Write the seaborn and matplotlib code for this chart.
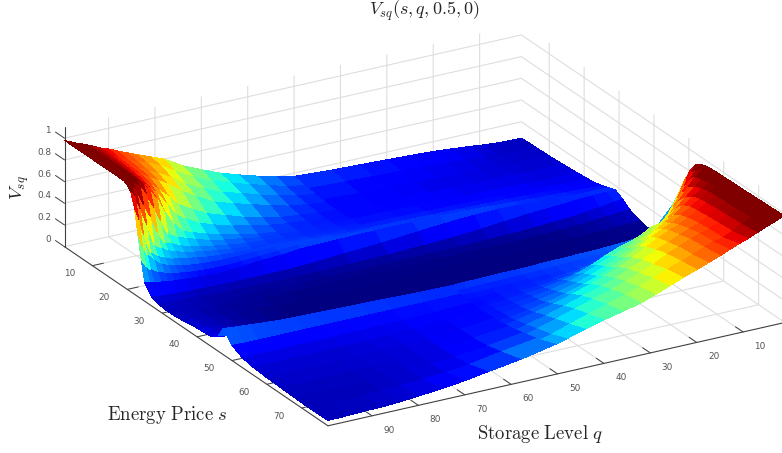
import numpy as np
import matplotlib
matplotlib.use("Agg")
import matplotlib.pyplot as plt
import seaborn as sns
from mpl_toolkits.mplot3d import proj3d

# ---- values ----
# coarse table: gentle parts of the surface and the middle valley
q_levels = [1, 3, 6, 9, 12, 16, 20, 25, 30, 36, 42, 50, 58, 65, 70, 75, 80, 84, 88, 91, 94, 97, 99.5]
s_back = [2, 6, 10, 14, 18, 21, 23, 25]
v_back = [
    [.05,.05,.055,.065,.08,.095,.11,.12,.13,.14,.15,.17],
    [.055,.055,.055,.06,.07,.08,.09,.10,.11,.12,.13,.145],
    [.06,.06,.06,.065,.07,.075,.08,.085,.09,.10,.11,.13],
    [.07,.07,.07,.07,.075,.075,.08,.085,.09,.10,.105,.12],
    [.08,.08,.08,.08,.085,.09,.095,.10,.105,.11,.115,.125],
    [.09,.09,.09,.095,.10,.105,.11,.115,.12,.125,.13,.135],
    [.10,.10,.105,.11,.115,.12,.125,.13,.135,.14,.145,.15],
    [.115,.115,.12,.125,.13,.135,.145,.155,.165,.17,.17,.17],
]
s_mid = [25, 27, 29, 31, 33, 36, 40, 44, 46, 47.5]
v_mid = [
    [.115,.115,.12,.125,.13,.135,.145,.155,.165,.17,.17,.17,.165,.16,.14,.13,.11,.10,.11,.12,.13,.15,.17],
    [.14,.14,.14,.145,.15,.155,.165,.17,.165,.15,.13,.10,.08,.06,.05,.05,.05,.05,.055,.06,.065,.07,.08],
    [.16,.16,.155,.15,.14,.13,.12,.10,.08,.06,.05,.035,.03,.025,.025,.025,.03,.03,.035,.04,.05,.055,.06],
    [.12,.11,.09,.075,.06,.05,.04,.03,.025,.02,.02,.015,.015,.015,.015,.02,.02,.025,.03,.035,.04,.045,.05],
    [.07,.06,.05,.04,.03,.02,.015,.01,.01,.01,.01,.01,.01,.01,.01,.015,.015,.02,.025,.03,.04,.045,.05],
    [.03,.025,.02,.015,.01,.005,0,0,0,0,0,0,0,0,0,0,.01,.015,.02,.03,.04,.05,.06],
    [.005,0,0,0,0,0,0,0,0,0,0,0,0,0,0,0,0,.01,.02,.03,.045,.06,.08],
    [.02,.01,.005,0,0,0,0,0,0,0,0,0,0,0,0,0,0,.01,.02,.035,.05,.07,.09],
    [.30,.20,.12,.10,.09,.085,.08,.08,.08,.08,.08,.08,.08,.08,.08,.08,.085,.09,.09,.095,.10,.12,.14],
    [.55,.42,.28,.22,.20,.19,.185,.18,.175,.17,.165,.16,.165,.175,.18,.185,.19,.195,.20,.21,.22,.23,.24],
]
s_front = [47.5, 50, 53, 56, 60, 64, 68, 72, 77.5]
v_front = [
    [.16,.165,.175,.18,.185,.19,.195,.20,.21,.22,.23,.24],
    [.135,.135,.135,.135,.135,.135,.135,.135,.135,.135,.135,.14],
    [.12,.11,.10,.10,.095,.09,.09,.09,.09,.09,.09,.09],
    [.125,.10,.085,.08,.075,.07,.07,.07,.07,.07,.07,.07],
    [.135,.105,.085,.075,.07,.065,.06,.06,.06,.06,.06,.06],
    [.147,.11,.085,.07,.065,.06,.055,.055,.055,.055,.055,.055],
    [.177,.125,.09,.075,.065,.055,.05,.05,.05,.05,.05,.05],
    [.212,.16,.11,.085,.07,.06,.05,.045,.045,.045,.045,.045],
    [.28,.21,.165,.13,.105,.085,.07,.06,.06,.055,.05,.05],
]
# fine table: the high corner at small s and large q
q_a = [50, 54, 58, 62, 66, 70, 74, 78, 81, 84, 86, 88, 90, 91.5, 93, 94.5, 96, 97.5, 98.5, 99.5]
s_a = [2, 5, 8, 11, 14, 16, 18, 19, 20, 21, 22, 23, 24, 25]
v_a = [
    [.17,.21,.25,.30,.355,.425,.50,.60,.65,.70,.735,.77,.81,.83,.86,.89,.915,.94,.96,.98],
    [.15,.18,.23,.275,.33,.385,.46,.555,.63,.69,.72,.75,.79,.825,.86,.89,.915,.94,.96,.98],
    [.135,.16,.20,.245,.30,.345,.42,.50,.59,.66,.70,.745,.785,.82,.855,.89,.915,.94,.96,.98],
    [.125,.145,.17,.215,.26,.31,.36,.455,.53,.625,.675,.725,.775,.81,.85,.89,.915,.94,.96,.98],
    [.12,.135,.15,.17,.21,.25,.305,.36,.43,.50,.59,.67,.75,.795,.84,.89,.915,.94,.96,.98],
    [.12,.13,.145,.155,.18,.215,.25,.30,.345,.41,.47,.59,.70,.77,.83,.885,.915,.94,.96,.98],
    [.125,.13,.14,.15,.16,.18,.215,.25,.29,.33,.36,.45,.58,.705,.79,.875,.92,.945,.965,.98],
    [.13,.135,.145,.15,.16,.17,.20,.225,.25,.29,.32,.345,.40,.53,.67,.79,.89,.935,.96,.98],
    [.13,.135,.145,.15,.155,.165,.175,.20,.22,.245,.265,.29,.33,.35,.46,.62,.75,.89,.93,.96],
    [.135,.14,.145,.15,.155,.16,.17,.185,.20,.22,.235,.25,.28,.30,.34,.39,.58,.75,.85,.92],
    [.14,.145,.15,.155,.16,.165,.165,.17,.18,.19,.205,.22,.235,.245,.27,.30,.345,.53,.68,.80],
    [.15,.15,.16,.165,.17,.17,.165,.16,.16,.165,.17,.18,.19,.205,.225,.25,.30,.37,.45,.58],
    [.16,.165,.17,.175,.17,.155,.145,.135,.13,.13,.135,.14,.15,.16,.175,.19,.21,.25,.29,.36],
    [.17,.17,.165,.165,.155,.14,.13,.115,.105,.10,.105,.11,.115,.12,.125,.135,.145,.155,.165,.17],
]
# fine table: the high corner at large s and small q
q_b = [1, 2, 3.5, 5, 7, 9, 11, 13, 15, 17.5, 20, 23, 26, 29, 32, 36, 40, 44, 48, 50]
s_b = [47.5, 49, 50.5, 52, 53.5, 55, 57, 59, 61, 63, 66, 69, 73, 77.5]
v_b = [
    [.55,.48,.36,.30,.25,.22,.21,.20,.195,.19,.185,.185,.18,.18,.175,.17,.17,.165,.165,.16],
    [.70,.62,.48,.38,.29,.25,.22,.205,.195,.185,.18,.175,.17,.165,.16,.155,.15,.15,.145,.145],
    [.82,.74,.61,.50,.39,.31,.26,.23,.21,.19,.175,.165,.16,.155,.15,.145,.14,.135,.135,.135],
    [.90,.84,.73,.63,.50,.40,.33,.30,.27,.24,.22,.195,.175,.16,.15,.14,.135,.13,.125,.125],
    [.93,.89,.81,.72,.60,.50,.42,.40,.36,.33,.29,.25,.21,.185,.165,.15,.14,.13,.12,.12],
    [.95,.92,.87,.79,.68,.58,.52,.50,.45,.41,.38,.33,.27,.225,.195,.165,.15,.135,.125,.12],
    [.955,.93,.89,.84,.76,.68,.60,.55,.51,.46,.42,.375,.32,.27,.23,.19,.165,.145,.13,.125],
    [.96,.94,.90,.865,.81,.75,.68,.63,.58,.515,.46,.41,.35,.30,.26,.215,.18,.155,.135,.125],
    [.96,.945,.91,.88,.835,.78,.72,.67,.635,.58,.52,.45,.385,.335,.29,.24,.20,.165,.14,.13],
    [.965,.95,.915,.885,.84,.79,.74,.70,.665,.62,.56,.49,.43,.38,.335,.28,.23,.19,.155,.14],
    [.965,.95,.92,.89,.85,.80,.76,.725,.69,.645,.60,.535,.48,.425,.38,.33,.275,.225,.18,.16],
    [.97,.955,.925,.895,.855,.81,.77,.75,.715,.67,.625,.56,.51,.46,.415,.365,.315,.26,.21,.185],
    [.975,.96,.93,.905,.865,.82,.78,.76,.73,.685,.65,.60,.55,.50,.455,.405,.355,.30,.245,.22],
    [.98,.97,.945,.92,.885,.85,.82,.785,.75,.71,.67,.625,.575,.525,.48,.44,.40,.355,.305,.28],
]
q_ticks = [10, 20, 30, 40, 50, 60, 70, 80, 90]
s_ticks = [10, 20, 30, 40, 50, 60, 70]
v_ticks = [0, 0.2, 0.4, 0.6, 0.8, 1]
v_tick_labels = ["0", "0.2", "0.4", "0.6", "0.8", "1"]

W, H = 782, 453
sns.set_theme(style="white")
plt.rcParams["mathtext.fontset"] = "cm"
plt.rcParams["font.family"] = ["DejaVu Sans"]

fig = plt.figure(figsize=(W / 100, H / 100), dpi=100, facecolor="white")
base = [-0.15, -0.6, 1.3, 2.2]
ax = fig.add_axes(base, projection="3d", proj_type="ortho", computed_zorder=False)
ax.view_init(elev=23.08, azim=60.03)

jet = plt.get_cmap("jet")
patches = [
    (q_levels[:12], s_back, v_back),
    (q_a, s_a, v_a),
    (q_levels, s_mid, v_mid),
    (q_levels[11:], s_front, v_front),
    (q_b, s_b, v_b),
]
for order, (qs, ss, vs) in enumerate(patches):
    Q, S = np.meshgrid(qs, ss)
    ax.plot_surface(Q, S, np.array(vs), cmap=jet, vmin=0, vmax=0.9, rstride=1, cstride=1,
                    linewidth=0, antialiased=False, shade=False, zorder=5 + order)

q_lim = (1, 99.5)
s_lim = (2, 77.5)
ax.set_xlim(q_lim[0], q_lim[1], view_margin=0)
ax.set_ylim(s_lim[0], s_lim[1], view_margin=0)
ax.set_zlim(0, 1.1, view_margin=0)
ax.set_xticks(q_ticks)
ax.set_yticks(s_ticks)
ax.set_zticks(v_ticks)
ax.set_xticklabels([])
ax.set_yticklabels([])
ax.set_zticklabels([])

aspect = (1, 1, 0.246)
ax.set_box_aspect(aspect, zoom=1)

grid_col = (0.87, 0.87, 0.87, 1)
line_col = (0.25, 0.25, 0.25, 1)
ax.zaxis._get_tickdir = lambda pos: 1
for axis, out in ((ax.xaxis, 0.36), (ax.yaxis, 0.30), (ax.zaxis, 0.43)):
    axis.set_pane_color((1, 1, 1, 0))
    axis.pane.set_edgecolor((1, 1, 1, 0))
    axis.line.set_color(line_col)
    axis.line.set_linewidth(0.8)
    axis._axinfo["grid"].update(color=grid_col, linewidth=0.8, linestyle="-")
    axis._axinfo["tick"].update(inward_factor=0.0, outward_factor=out)
    axis._axinfo["tick"]["linewidth"] = {True: 0.7, False: 0.7}
    axis.set_tick_params(color=line_col)


def corner(q, s, v):
    x, y, _ = proj3d.proj_transform(q, s, v, ax.get_proj())
    return ax.transData.transform((x, y))


fig.canvas.draw()
a = corner(q_lim[0], s_lim[1], 0)
b = corner(q_lim[1], s_lim[0], 0)
ax.set_box_aspect(aspect, zoom=(784.8 - 64.5) / (a[0] - b[0]))
fig.canvas.draw()
b = corner(q_lim[1], s_lim[0], 0)
dx = (64.5 - b[0]) / W
dy = ((H - 246.7) - b[1]) / H
ax.set_position([base[0] + dx, base[1] + dy, base[2], base[3]])
fig.canvas.draw()

tick_col = (0.33, 0.33, 0.33)


def tick_text(anchor, off_x, off_down, txt, ha="center"):
    fig.text((anchor[0] + off_x) / W, (anchor[1] - off_down) / H, txt, fontsize=6.4,
             color=tick_col, ha=ha, va="center")


for s in s_ticks:
    tick_text(corner(q_lim[1], s, 0), -23, 8, str(s))
for q in q_ticks:
    tick_text(corner(q, s_lim[1], 0), 17, 14.5, str(q))
for v, txt in zip(v_ticks, v_tick_labels):
    tick_text(corner(q_lim[1], s_lim[0], v), -13.5, -7.6, txt, ha="right")


def label(px, py, txt, size, **kw):
    fig.text(px / W, 1 - py / H, txt, fontsize=size, color=(0.15, 0.15, 0.15),
             ha="center", va="center", **kw)


label(424.5, 11, r"$V_{sq}(s,q,0.5,0)$", 13)
label(167, 415, r"$\mathrm{Energy\ Price}\ s$", 13.5)
label(540, 434, r"$\mathrm{Storage\ Level}\ q$", 13.5)
label(20, 187, r"$V_{sq}$", 13.5, rotation=90)

fig.savefig("out.png", dpi=100)
